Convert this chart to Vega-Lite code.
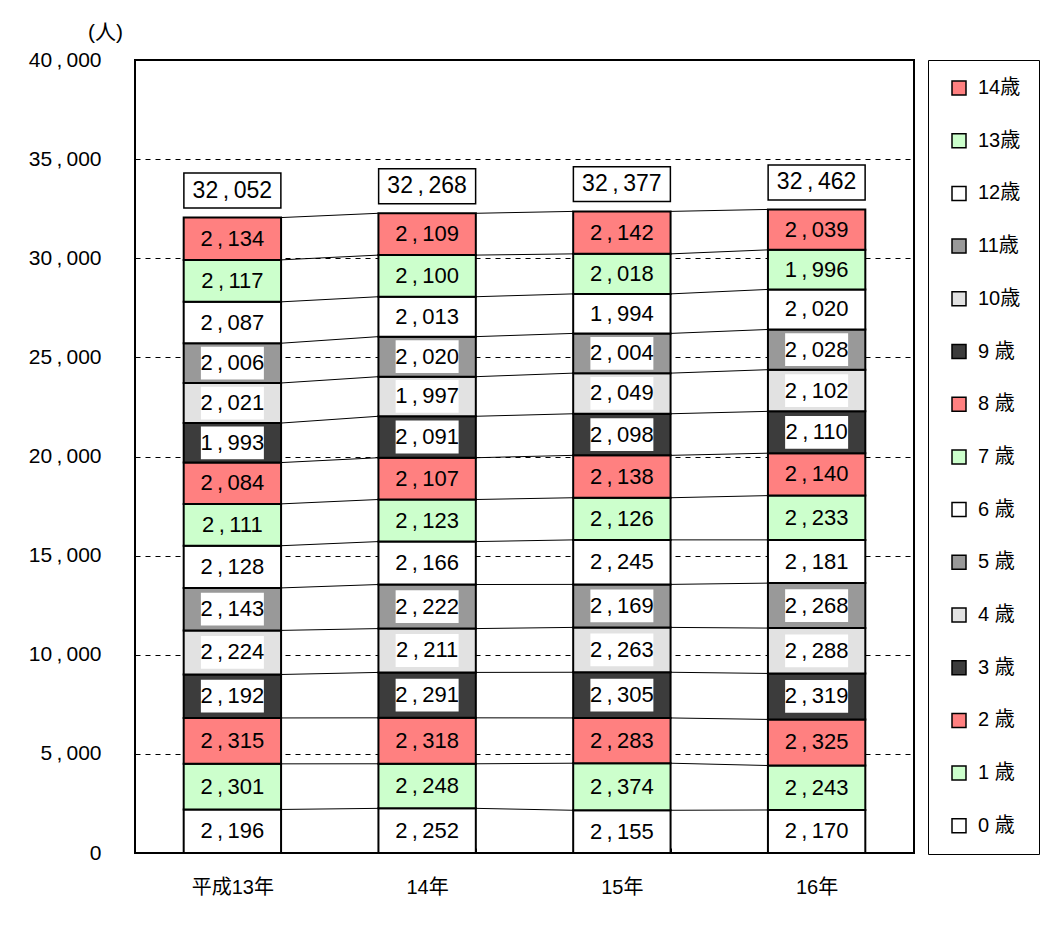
{
  "$schema": "https://vega.github.io/schema/vega-lite/v6.json",
  "width": 779,
  "height": 793,
  "autosize": {"type": "none"},
  "padding": {"left": 135, "top": 60, "right": 148, "bottom": 75},
  "background": "white",
  "config": {
    "font": "'Liberation Sans', 'Noto Sans CJK JP', sans-serif",
    "view": {"stroke": "black", "strokeWidth": 2},
    "axis": {"labelColor": "black", "titleColor": "black", "labelFont": "'Liberation Sans', 'Noto Sans CJK JP', sans-serif"}
  },
  "datasets": {
    "ages": [
      {"year": "平成13年", "age": 0, "count": 2196}, {"year": "平成13年", "age": 1, "count": 2301}, {"year": "平成13年", "age": 2, "count": 2315},
      {"year": "平成13年", "age": 3, "count": 2192}, {"year": "平成13年", "age": 4, "count": 2224}, {"year": "平成13年", "age": 5, "count": 2143},
      {"year": "平成13年", "age": 6, "count": 2128}, {"year": "平成13年", "age": 7, "count": 2111}, {"year": "平成13年", "age": 8, "count": 2084},
      {"year": "平成13年", "age": 9, "count": 1993}, {"year": "平成13年", "age": 10, "count": 2021}, {"year": "平成13年", "age": 11, "count": 2006},
      {"year": "平成13年", "age": 12, "count": 2087}, {"year": "平成13年", "age": 13, "count": 2117}, {"year": "平成13年", "age": 14, "count": 2134},
      {"year": "14年", "age": 0, "count": 2252}, {"year": "14年", "age": 1, "count": 2248}, {"year": "14年", "age": 2, "count": 2318},
      {"year": "14年", "age": 3, "count": 2291}, {"year": "14年", "age": 4, "count": 2211}, {"year": "14年", "age": 5, "count": 2222},
      {"year": "14年", "age": 6, "count": 2166}, {"year": "14年", "age": 7, "count": 2123}, {"year": "14年", "age": 8, "count": 2107},
      {"year": "14年", "age": 9, "count": 2091}, {"year": "14年", "age": 10, "count": 1997}, {"year": "14年", "age": 11, "count": 2020},
      {"year": "14年", "age": 12, "count": 2013}, {"year": "14年", "age": 13, "count": 2100}, {"year": "14年", "age": 14, "count": 2109},
      {"year": "15年", "age": 0, "count": 2155}, {"year": "15年", "age": 1, "count": 2374}, {"year": "15年", "age": 2, "count": 2283},
      {"year": "15年", "age": 3, "count": 2305}, {"year": "15年", "age": 4, "count": 2263}, {"year": "15年", "age": 5, "count": 2169},
      {"year": "15年", "age": 6, "count": 2245}, {"year": "15年", "age": 7, "count": 2126}, {"year": "15年", "age": 8, "count": 2138},
      {"year": "15年", "age": 9, "count": 2098}, {"year": "15年", "age": 10, "count": 2049}, {"year": "15年", "age": 11, "count": 2004},
      {"year": "15年", "age": 12, "count": 1994}, {"year": "15年", "age": 13, "count": 2018}, {"year": "15年", "age": 14, "count": 2142},
      {"year": "16年", "age": 0, "count": 2170}, {"year": "16年", "age": 1, "count": 2243}, {"year": "16年", "age": 2, "count": 2325},
      {"year": "16年", "age": 3, "count": 2319}, {"year": "16年", "age": 4, "count": 2288}, {"year": "16年", "age": 5, "count": 2268},
      {"year": "16年", "age": 6, "count": 2181}, {"year": "16年", "age": 7, "count": 2233}, {"year": "16年", "age": 8, "count": 2140},
      {"year": "16年", "age": 9, "count": 2110}, {"year": "16年", "age": 10, "count": 2102}, {"year": "16年", "age": 11, "count": 2028},
      {"year": "16年", "age": 12, "count": 2020}, {"year": "16年", "age": 13, "count": 1996}, {"year": "16年", "age": 14, "count": 2039}
    ],
    "totals": [
      {"year": "平成13年", "total": 32052},
      {"year": "14年", "total": 32268},
      {"year": "15年", "total": 32377},
      {"year": "16年", "total": 32462}
    ]
  },
  "data": {"name": "ages"},
  "transform": [
    {"stack": "count", "groupby": ["year"], "sort": [{"field": "age", "order": "ascending"}], "as": ["y0", "y1"]},
    {"calculate": "(datum.y0 + datum.y1) / 2", "as": "ymid"},
    {"calculate": "replace(format(datum.count, ','), ',', '\u2009,\u2009')", "as": "lab"},
    {"calculate": "indexof(['平成13年','14年','15年','16年'], datum.year)", "as": "yi"}
  ],
  "layer": [
    {
      "mark": {"type": "bar", "stroke": "black", "strokeWidth": 2},
      "encoding": {
        "x": {
          "field": "year", "type": "nominal", "title": null,
          "scale": {"domain": ["平成13年", "14年", "15年", "16年"], "paddingInner": 0.5, "paddingOuter": 0.25},
          "axis": {
            "orient": "bottom", "labelAngle": 0, "labelFontSize": 20, "labelPadding": 29,
            "tickBand": "extent",
            "ticks": true, "tickSize": -5, "tickColor": "black", "tickWidth": 1, "domain": false
          }
        },
        "y": {
          "field": "y0", "type": "quantitative",
          "scale": {"domain": [0, 40000], "nice": false},
          "axis": {
            "values": [0, 5000, 10000, 15000, 20000, 25000, 30000, 35000, 40000],
            "labelExpr": "replace(format(datum.value, ','), ',', '\u2009,\u2009')",
            "labelFontSize": 21, "labelPadding": 34, "ticks": false, "tickSize": 0, "domain": false,
            "grid": true, "gridColor": "black", "gridDash": [5, 5], "gridWidth": 1, "gridOpacity": 1,
            "title": "(人)", "titleAngle": 0, "titleX": -30, "titleY": -28, "titleFontSize": 21,
            "titleFontWeight": "normal", "titleAlign": "center", "titleBaseline": "middle"
          }
        },
        "y2": {"field": "y1"},
        "fill": {
          "field": "age", "type": "nominal",
          "scale": {
            "domain": [14, 13, 12, 11, 10, 9, 8, 7, 6, 5, 4, 3, 2, 1, 0],
            "range": ["#ff8080", "#ccffcc", "#ffffff", "#999999", "#e2e2e2", "#3c3c3c", "#ff8080", "#ccffcc", "#ffffff", "#999999", "#e2e2e2", "#3c3c3c", "#ff8080", "#ccffcc", "#ffffff"]
          },
          "legend": {
            "title": null, "orient": "right", "offset": 14,
            "symbolType": "square", "symbolSize": 196, "symbolStrokeColor": "black", "symbolStrokeWidth": 1.5,
            "labelFontSize": 20, "labelColor": "black", "rowPadding": 32.7, "padding": 18,
            "strokeColor": "black", "labelOffset": 9, "symbolOffset": 3,
            "labelExpr": "datum.value < 10 ? datum.value + ' 歳' : datum.value + '歳'"
          }
        }
      }
    },
    {
      "transform": [
        {"window": [{"op": "lead", "field": "y1", "as": "ny1"}, {"op": "lead", "field": "year", "as": "nyear"}], "groupby": ["age"], "sort": [{"field": "yi", "order": "ascending"}]},
        {"filter": "datum.nyear != null"}
      ],
      "mark": {"type": "rule", "stroke": "black", "strokeWidth": 1, "xOffset": 48.7, "x2Offset": -48.7},
      "encoding": {
        "x": {"field": "year", "type": "nominal"},
        "x2": {"field": "nyear"},
        "y": {"field": "y1", "type": "quantitative"},
        "y2": {"field": "ny1"}
      }
    },
    {
      "transform": [{"filter": "indexof([3,4,5,9,10,11], datum.age) >= 0"}],
      "mark": {"type": "point", "shape": "M-1,-0.52H1V0.52H-1Z", "size": 3969, "filled": true, "fill": "white", "opacity": 1, "strokeWidth": 0},
      "encoding": {
        "x": {"field": "year", "type": "nominal"},
        "y": {"field": "ymid", "type": "quantitative"}
      }
    },
    {
      "mark": {"type": "text", "fontSize": 22, "color": "black", "baseline": "middle", "align": "center"},
      "encoding": {
        "x": {"field": "year", "type": "nominal"},
        "y": {"field": "ymid", "type": "quantitative"},
        "text": {"field": "lab"}
      }
    },
    {
      "data": {"name": "totals"},
      "mark": {"type": "point", "shape": "M-1,-0.36H1V0.36H-1Z", "size": 9409, "filled": true, "fill": "white", "stroke": "black", "strokeWidth": 1.5, "opacity": 1, "yOffset": -27},
      "encoding": {
        "x": {"field": "year", "type": "nominal"},
        "y": {"field": "total", "type": "quantitative"}
      }
    },
    {
      "data": {"name": "totals"},
      "transform": [{"calculate": "replace(format(datum.total, ','), ',', '\u2009,\u2009')", "as": "lab"}],
      "mark": {"type": "text", "fontSize": 23, "color": "black", "baseline": "middle", "align": "center", "dy": -27},
      "encoding": {
        "x": {"field": "year", "type": "nominal"},
        "y": {"field": "total", "type": "quantitative"},
        "text": {"field": "lab"}
      }
    }
  ]
}
